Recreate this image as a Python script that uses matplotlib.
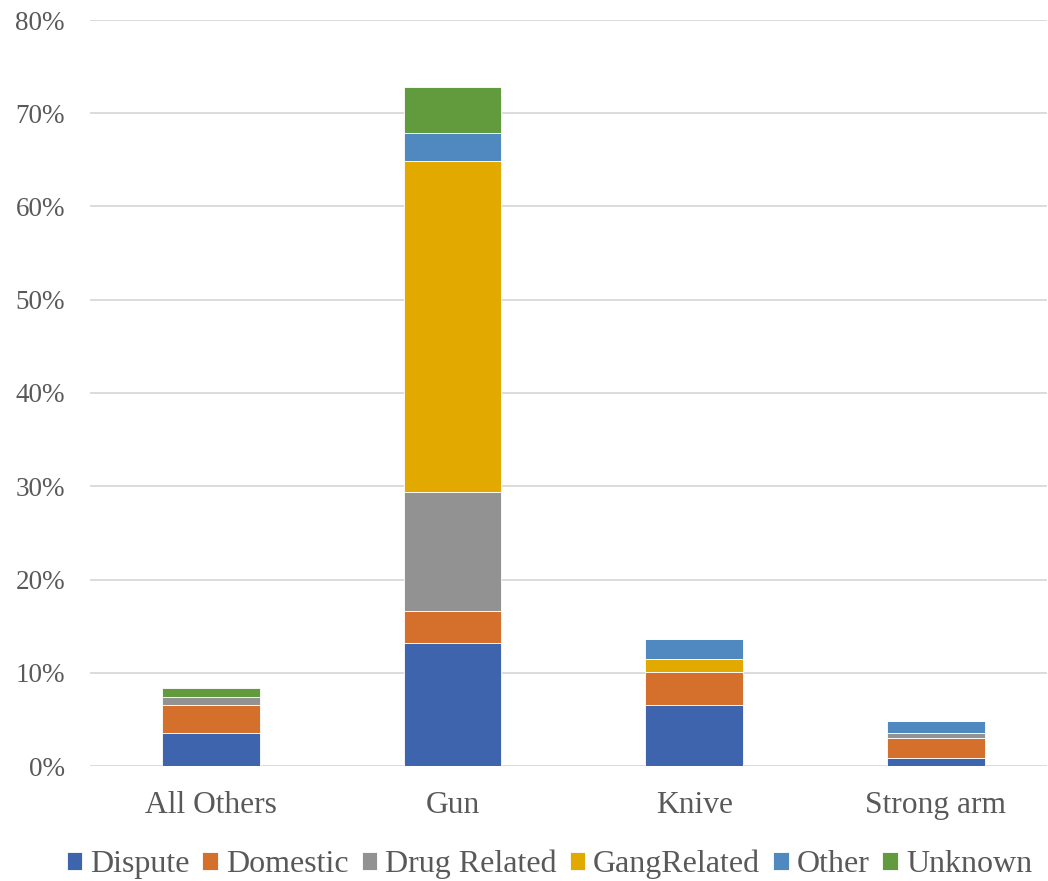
import matplotlib
matplotlib.use("Agg")
import matplotlib.pyplot as plt
import numpy as np
from matplotlib.ticker import PercentFormatter

# weapon categories and motive shares (fraction of all cases)
categories = ["All Others", "Gun", "Knive", "Strong arm"]
motives = ["Dispute", "Domestic", "Drug Related", "GangRelated", "Other", "Unknown"]
dispute = [0.035, 0.132, 0.0654, 0.0082]
domestic = [0.0304, 0.0345, 0.0356, 0.0222]
drug_related = [0.0089, 0.127, 0.0, 0.0046]
gang_related = [0.0, 0.3555, 0.0134, 0.0]
other = [0.0, 0.030, 0.0214, 0.0129]
unknown = [0.009, 0.049, 0.0, 0.0]

colors = ["#3D64AD", "#D4702C", "#929292", "#E2AA00", "#4F89BF", "#629A3E"]
series = [dispute, domestic, drug_related, gang_related, other, unknown]

plt.rcParams['font.family'] = ['Liberation Serif', 'DejaVu Serif']
text_color = "#595959"

fig = plt.figure(figsize=(10.48, 8.81), dpi=100)
ax = fig.add_axes([90/1048, 115/881, (1047-90)/1048, 746/881])

x = np.arange(len(categories))
bottom = np.zeros(len(categories))
for name, vals, c in zip(motives, series, colors):
    ax.bar(x, vals, 0.405, bottom=bottom, color=c, label=name,
           edgecolor="white", linewidth=0.6, zorder=3)
    bottom += np.array(vals)

ax.set_xlim(-0.5, 3.46)
ax.set_ylim(0, 0.8)
ax.set_yticks(np.arange(0, 0.81, 0.1))
ax.yaxis.set_major_formatter(PercentFormatter(1.0, decimals=0))
ax.set_xticks(x)
ax.set_xticklabels(categories)
ax.grid(axis="y", color="#D9D9D9", linewidth=1.3, zorder=0)
for s in ax.spines.values():
    s.set_visible(False)
ax.tick_params(axis="both", length=0, colors=text_color)
ax.tick_params(axis="y", labelsize=19.5, pad=18)
ax.tick_params(axis="x", labelsize=22.7, pad=18)

ax.legend(loc="center", bbox_to_anchor=(0.48, -0.132), ncol=6, frameon=False,
          fontsize=23, labelcolor=text_color, handlelength=0.49, handleheight=0.49,
          handletextpad=0.25, columnspacing=0.4, borderaxespad=0, borderpad=0)

fig.savefig("out.png", dpi=100)
